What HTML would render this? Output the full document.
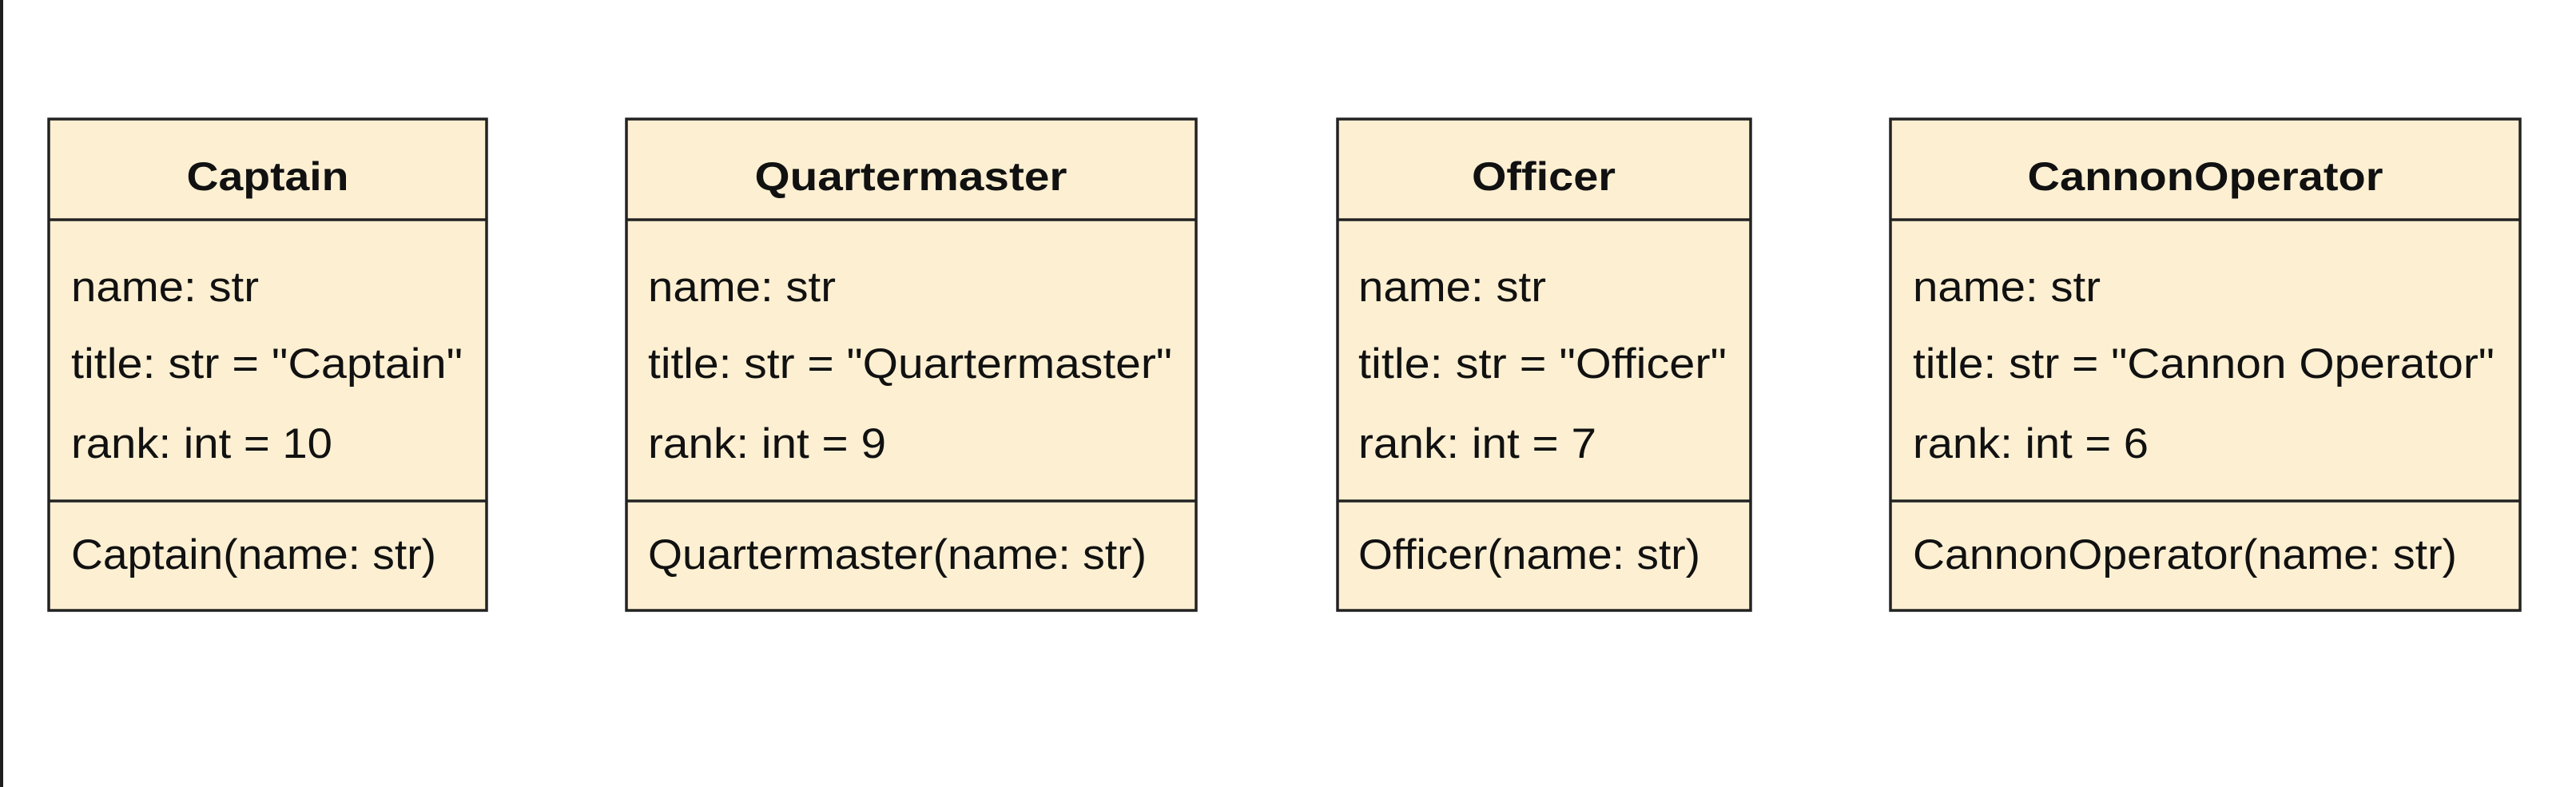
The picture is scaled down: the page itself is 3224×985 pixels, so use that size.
<!DOCTYPE html>
<html><head><meta charset="utf-8"><style>
html,body{margin:0;padding:0;background:#fff;width:3224px;height:985px;overflow:hidden}
svg{display:block}
text{font-family:"Liberation Sans",Arial,sans-serif;fill:#111}
.h{font-weight:bold;font-size:50px}
.t{font-size:53px}
</style></head><body>
<svg width="3224" height="985" viewBox="0 0 3224 985" xmlns="http://www.w3.org/2000/svg">
<rect x="0" y="0" width="4" height="985" fill="#1e1e1e"/>
<g stroke="#222" stroke-width="3.5" fill="#fcefd2">
<rect x="61" y="149" width="548" height="615"/>
<line x1="61" y1="275" x2="609" y2="275"/><line x1="61" y1="627" x2="609" y2="627"/>
<rect x="784" y="149" width="713" height="615"/>
<line x1="784" y1="275" x2="1497" y2="275"/><line x1="784" y1="627" x2="1497" y2="627"/>
<rect x="1674" y="149" width="517" height="615"/>
<line x1="1674" y1="275" x2="2191" y2="275"/><line x1="1674" y1="627" x2="2191" y2="627"/>
<rect x="2366" y="149" width="788" height="615"/>
<line x1="2366" y1="275" x2="3154" y2="275"/><line x1="2366" y1="627" x2="3154" y2="627"/>
</g>
<g>
<text class="h" x="335" y="238" text-anchor="middle" textLength="203" lengthAdjust="spacingAndGlyphs">Captain</text>
<text class="t" x="89" y="377" textLength="235" lengthAdjust="spacingAndGlyphs">name: str</text>
<text class="t" x="89" y="473" textLength="490" lengthAdjust="spacingAndGlyphs">title: str = "Captain"</text>
<text class="t" x="89" y="573" textLength="327" lengthAdjust="spacingAndGlyphs">rank: int = 10</text>
<text class="t" x="89" y="712" textLength="457" lengthAdjust="spacingAndGlyphs">Captain(name: str)</text>

<text class="h" x="1140" y="238" text-anchor="middle" textLength="391" lengthAdjust="spacingAndGlyphs">Quartermaster</text>
<text class="t" x="811" y="377" textLength="235" lengthAdjust="spacingAndGlyphs">name: str</text>
<text class="t" x="811" y="473" textLength="656" lengthAdjust="spacingAndGlyphs">title: str = "Quartermaster"</text>
<text class="t" x="811" y="573" textLength="298" lengthAdjust="spacingAndGlyphs">rank: int = 9</text>
<text class="t" x="811" y="712" textLength="624" lengthAdjust="spacingAndGlyphs">Quartermaster(name: str)</text>

<text class="h" x="1932" y="238" text-anchor="middle" textLength="180" lengthAdjust="spacingAndGlyphs">Officer</text>
<text class="t" x="1700" y="377" textLength="235" lengthAdjust="spacingAndGlyphs">name: str</text>
<text class="t" x="1700" y="473" textLength="461" lengthAdjust="spacingAndGlyphs">title: str = "Officer"</text>
<text class="t" x="1700" y="573" textLength="298" lengthAdjust="spacingAndGlyphs">rank: int = 7</text>
<text class="t" x="1700" y="712" textLength="428" lengthAdjust="spacingAndGlyphs">Officer(name: str)</text>

<text class="h" x="2760" y="238" text-anchor="middle" textLength="445" lengthAdjust="spacingAndGlyphs">CannonOperator</text>
<text class="t" x="2394" y="377" textLength="235" lengthAdjust="spacingAndGlyphs">name: str</text>
<text class="t" x="2394" y="473" textLength="728" lengthAdjust="spacingAndGlyphs">title: str = "Cannon Operator"</text>
<text class="t" x="2394" y="573" textLength="295" lengthAdjust="spacingAndGlyphs">rank: int = 6</text>
<text class="t" x="2394" y="712" textLength="681" lengthAdjust="spacingAndGlyphs">CannonOperator(name: str)</text>
</g>
</svg>
</body></html>
